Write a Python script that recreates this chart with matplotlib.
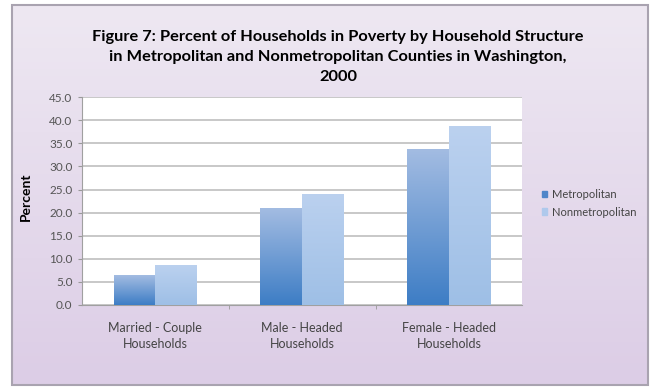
import numpy as np
import matplotlib.pyplot as plt
from matplotlib.patches import Rectangle
from matplotlib.colors import LinearSegmentedColormap

plt.rcParams['font.family'] = ['Lato', 'DejaVu Sans']

# data
categories = ['Married - Couple\nHouseholds', 'Male - Headed\nHouseholds', 'Female - Headed\nHouseholds']
metro = [6.4, 21.0, 33.7]
nonmetro = [8.6, 24.0, 38.7]
series_names = ['Metropolitan', 'Nonmetropolitan']
yticks = np.arange(0, 45.1, 5)

fig = plt.figure(figsize=(6.67, 3.87), dpi=100)

# lavender background with frame
bg = fig.add_axes([0, 0, 1, 1], zorder=-10)
bg.set_xlim(0, 667)
bg.set_ylim(387, 0)
bg.axis('off')
grad = np.linspace(0, 1, 256).reshape(-1, 1)
bg_cmap = LinearSegmentedColormap.from_list('bg', ['#EEE8F2', '#DCCDE6'])
bg.imshow(grad, cmap=bg_cmap, extent=[12, 648, 385, 5], aspect='auto')
bg.add_patch(Rectangle((12, 5), 636, 380, fill=False, ec='#A9A3B0', lw=1.5))

ax = fig.add_axes([0.123, 0.212, 0.660, 0.537])
x = np.arange(len(categories))
w = 0.285
b1 = ax.bar(x - w / 2, metro, w, color='#6F9AD3', label=series_names[0], zorder=3)
b2 = ax.bar(x + w / 2, nonmetro, w, color='#AFC9EC', label=series_names[1], zorder=3)

# gradient fill for the bars
cm1 = LinearSegmentedColormap.from_list('m', ['#A3BCE2', '#3D7DC5'])
cm2 = LinearSegmentedColormap.from_list('n', ['#BBD1EF', '#9EBFE6'])
for bars, cm in ((b1, cm1), (b2, cm2)):
    for r in bars:
        x0, y0 = r.get_x(), r.get_y()
        im = ax.imshow(grad, cmap=cm, extent=[x0, x0 + r.get_width(), y0, y0 + r.get_height()],
                       aspect='auto', zorder=4, origin='upper')
        im.set_clip_path(r)
        r.set_edgecolor('none')

ax.set_xlim(-0.5, 2.5)
ax.set_ylim(0, 45)
ax.set_yticks(yticks)
ax.set_yticklabels([f'{v:.1f}' for v in yticks], fontsize=8.5, color='#555555')
ax.set_xticks(x)
ax.set_xticklabels(categories, fontsize=9, color='#444444', linespacing=1.45)
ax.set_xticks([0.5, 1.5], minor=True)
ax.tick_params(axis='x', which='major', length=0, pad=12)
ax.tick_params(axis='x', which='minor', length=3, color='#999999')
ax.tick_params(axis='y', length=3, color='#999999', pad=4)
ax.grid(axis='y', color='#C4C4C4', lw=1.3, zorder=0)
for s in ['top', 'right']:
    ax.spines[s].set_visible(False)
for s in ['left', 'bottom']:
    ax.spines[s].set_color('#A0A0A0')
ax.set_ylabel('Percent', fontsize=10, fontweight='bold')
ax.yaxis.set_label_coords(-0.115, 0.52)

fig.text(0.507, 0.852, 'Figure 7: Percent of Households in Poverty by Household Structure\n'
         'in Metropolitan and Nonmetropolitan Counties in Washington,\n2000',
         ha='center', va='center', fontsize=11.8, fontweight='bold', linespacing=1.55)

leg = fig.legend(handles=[b1, b2], labels=series_names, loc='center left',
                 bbox_to_anchor=(0.797, 0.475), frameon=False, fontsize=8,
                 handlelength=0.5, handleheight=0.5, handletextpad=0.4, labelspacing=0.6,
                 labelcolor='#444444')
leg.legend_handles[0].set_color('#4F86C9')
leg.legend_handles[1].set_color('#AFC9EC')

fig.savefig('out.png', dpi=100)
